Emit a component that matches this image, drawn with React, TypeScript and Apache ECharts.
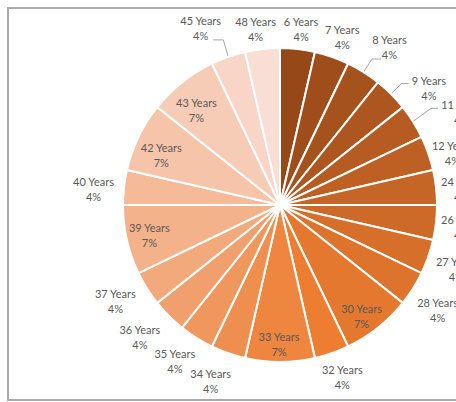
import React, { useEffect, useRef } from "react";
import * as echarts from "echarts";

// Years-of-service groups and the number of people in each
const categories = [
  "6 Years", "7 Years", "8 Years", "9 Years", "11 Years", "12 Years",
  "24 Years", "26 Years", "27 Years", "28 Years", "30 Years", "32 Years",
  "33 Years", "34 Years", "35 Years", "36 Years", "37 Years", "39 Years",
  "40 Years", "42 Years", "43 Years", "45 Years", "48 Years",
];
const counts = [
  1, 1, 1, 1, 1, 1,
  1, 1, 1, 1, 2, 1,
  2, 1, 1, 1, 1, 2,
  1, 2, 2, 1, 1,
];

// Label placement: which labels sit inside their slice, which get a leader line
const insideLabels = ["30 Years", "33 Years", "39 Years", "42 Years", "43 Years"];
const leaderLabels = ["8 Years", "9 Years", "11 Years", "45 Years"];
// Small per-label nudges [dx, dy] in pixels, to keep labels clear of each other
const labelShift: Record<string, [number, number]> = {
  "6 Years": [1, -1], "7 Years": [3, -2], "8 Years": [14, -9], "9 Years": [22, 7],
  "11 Years": [27, 1], "12 Years": [0, 6], "24 Years": [0, 4], "26 Years": [0, 2],
  "27 Years": [4, 6], "28 Years": [3, 11], "32 Years": [2, 6], "34 Years": [-9, 10],
  "35 Years": [-8, 7], "36 Years": [-11, 8], "37 Years": [-10, 2], "40 Years": [-5, 4],
  "45 Years": [-19, -11], "48 Years": [-4, -1],
  "30 Years": [-2, 6], "33 Years": [-1, 5], "39 Years": [0, 0], "42 Years": [2, 8], "43 Years": [0, 10],
};

const CX = 280;
const CY = 205;
const R = 157;
const R_IN = 134;

function hexToRgb(h: string) {
  const n = parseInt(h.slice(1), 16);
  return [(n >> 16) & 255, (n >> 8) & 255, n & 255];
}
function mix(a: string, b: string, t: number) {
  const A = hexToRgb(a);
  const B = hexToRgb(b);
  const c = A.map((v, k) => Math.round(v + (B[k] - v) * t));
  return "#" + c.map((v) => v.toString(16).padStart(2, "0")).join("");
}
// Monochromatic orange ramp: dark shade -> base orange -> pale tint
function rampColor(i: number, n: number) {
  const mid = 11;
  if (i <= mid) return mix("#964819", "#ed7d31", i / mid);
  return mix("#ed7d31", "#f9ded5", (i - mid) / (n - 1 - mid));
}

export default function App() {
  const ref = useRef<HTMLDivElement>(null);

  useEffect(() => {
    document.body.style.margin = "0";
    if (!ref.current) return;
    const chart = echarts.init(ref.current, null, { renderer: "svg" });

    const total = counts.reduce((a, b) => a + b, 0);
    const starts: number[] = [];
    let acc = 0;
    counts.forEach((c) => {
      starts.push(acc);
      acc += c;
    });

    const data = categories.map((name, i) => ({
      name,
      value: counts[i],
      itemStyle: { color: rampColor(i, categories.length) },
      labelLine: { show: leaderLabels.includes(name) },
    }));

    chart.setOption({
      animation: false,
      backgroundColor: "#ffffff",
      graphic: [
        {
          type: "rect",
          shape: { x: 8, y: 8, width: 480, height: 392 },
          style: { fill: "none", stroke: "#ababab", lineWidth: 2 },
          silent: true,
        },
      ],
      series: [
        {
          type: "pie",
          center: [CX, CY],
          radius: R,
          startAngle: 90,
          clockwise: true,
          avoidLabelOverlap: false,
          data,
          itemStyle: { borderColor: "#ffffff", borderWidth: 2 },
          label: {
            show: true,
            position: "outside",
            color: "#595959",
            fontFamily: "Lato",
            fontSize: 11,
            lineHeight: 15,
            formatter: (p: any) =>
              `${p.name}\n${Math.round((p.value / total) * 100)}%`,
          },
          labelLine: {
            show: false,
            lineStyle: { color: "#a6a6a6", width: 1 },
          },
          emphasis: { disabled: true },
          labelLayout: (params: any) => {
            const i = params.dataIndex;
            const name = categories[i];
            const ang = ((starts[i] + counts[i] / 2) / total) * Math.PI * 2;
            const ux = Math.sin(ang);
            const uy = -Math.cos(ang);
            const hw = params.labelRect.width / 2;
            const hh = 14;
            let lx: number;
            let ly: number;
            if (insideLabels.includes(name)) {
              lx = CX + R_IN * ux;
              ly = CY + R_IN * uy;
            } else {
              lx = CX + (R + 5) * ux + hw * ux;
              ly = CY + (R + 5) * uy + hh * uy;
            }
            const s = labelShift[name] || [0, 0];
            lx += s[0];
            ly += s[1];
            const out: any = { x: lx, y: ly, align: "center", verticalAlign: "middle" };
            if (leaderLabels.includes(name)) {
              const ex = CX + R * ux;
              const ey = CY + R * uy;
              const bl = lx - hw;
              const br = lx + hw;
              const bb = ly + hh;
              let elbow: number[];
              let end: number[];
              if (ey > bb) {
                if (ex < lx) {
                  elbow = [bl, bb - 2];
                  end = [bl + 9, bb - 2];
                } else {
                  elbow = [br + 2, bb - 2];
                  end = [br - 8, bb - 2];
                }
              } else if (ex < lx) {
                end = [bl - 3, ly - 4];
                elbow = [end[0] - 7, end[1]];
              } else {
                end = [br + 3, ly - 4];
                elbow = [end[0] + 7, end[1]];
              }
              out.labelLinePoints = [[ex, ey], elbow, end];
            }
            return out;
          },
        },
      ],
    });

    return () => chart.dispose();
  }, []);

  return <div ref={ref} style={{ width: 456, height: 402 }} />;
}
